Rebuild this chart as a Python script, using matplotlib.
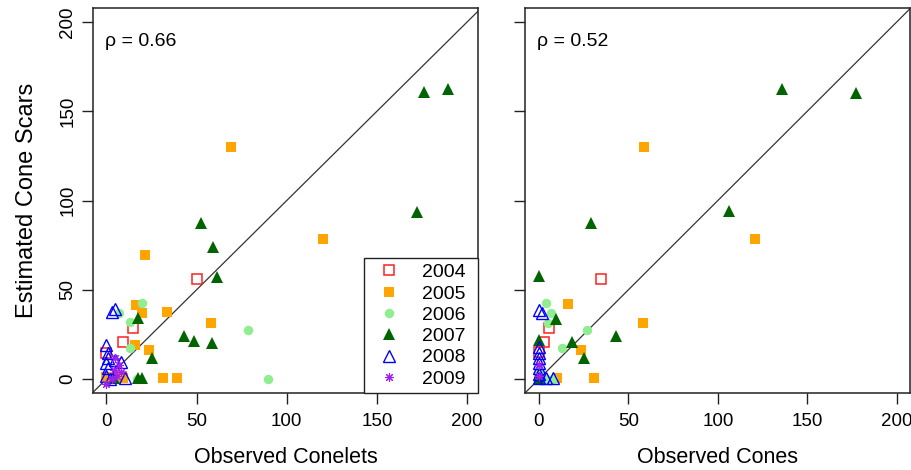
import matplotlib
matplotlib.use("Agg")
import matplotlib.pyplot as plt
from matplotlib.lines import Line2D

plt.rcParams['font.family'] = ['Liberation Sans', 'DejaVu Sans']

years = ["2004", "2005", "2006", "2007", "2008", "2009"]

# Left panel: Observed Conelets (x) vs Estimated Cone Scars (y)
left_x = {
    "2004": [50.4, 15, 9.4, 0, 8],
    "2005": [69, 120, 21.6, 16.6, 20, 33.8, 58, 16, 23.8, 31.6, 39.3, 9.5, 0],
    "2006": [20, 7.2, 13.3, 13.3, 78.7, 89.7, 17],
    "2007": [176, 189.5, 172, 52.6, 59.3, 61.5, 43, 48.8, 58.7, 25.5, 17.7, 17.7, 20, 4],
    "2008": [3.3, 5, 0, 1, 1, 0, 1, 0, 5, 8, 10.5, 2],
    "2009": [5, 7, 4, 6, 3, 8, 0],
}
left_y = {
    "2004": [56, 28.6, 20.7, 14.5, 1],
    "2005": [130, 78.4, 69.5, 41.5, 37, 37.5, 31.4, 19, 16.2, 0.5, 0.5, 0.5, 1],
    "2006": [42.5, 37, 32, 17.5, 27.4, 0, 0],
    "2007": [161, 162.5, 93.6, 87.4, 74, 57, 24, 21.3, 20.2, 11.8, 34, 0.5, 0.5, 0.5],
    "2008": [37.5, 39, 19, 14.5, 11.8, 9, 6, 2, 10.6, 9.5, 0.5, 0],
    "2009": [12, 8, 5, 2, 0, 4, -3],
}

# Right panel: Observed Cones (x) vs Estimated Cone Scars (y)
right_x = {
    "2004": [34.6, 5.6, 2.8, 0],
    "2005": [58.7, 120.7, 16.5, 58, 23.5, 31, 10, 0],
    "2006": [4, 6.7, 5, 27, 12.8, 0, 4, 8],
    "2007": [135.8, 177, 106, 29, 0, 9.5, 43, 0, 18.4, 25.3, 0],
    "2008": [0, 1.7, 0, 0, 0, 0, 0, 0, 0, 4, 8],
    "2009": [0, 0],
}
right_y = {
    "2004": [56, 28.6, 20.7, 15],
    "2005": [130, 78.4, 41.8, 31.4, 16.2, 0.5, 0.5, 0.5],
    "2006": [42.5, 37, 31.4, 27.4, 17.5, 4, 0, 0],
    "2007": [162.5, 160, 94, 87.4, 57.7, 33.6, 24, 22, 20.5, 11.8, 0],
    "2008": [38.7, 37, 18, 14.5, 12, 9, 6, 3, 0.5, 0.5, 0.5],
    "2009": [8, 2],
}

rho_labels = ["\u03c1 = 0.66", "\u03c1 = 0.52"]
xlabels = ["Observed Conelets", "Observed Cones"]
ylabel = "Estimated Cone Scars"
ticks = [0, 50, 100, 150, 200]

styles = {
    "2004": dict(marker='s', ms=7.0, mfc='none', mec='#FF2020', mew=1.1),
    "2005": dict(marker='s', ms=7.0, mfc='#FFA500', mec='#FFA500', mew=0),
    "2006": dict(marker='o', ms=6.8, mfc='#90EE90', mec='#90EE90', mew=0),
    "2007": dict(marker='^', ms=8.2, mfc='#006400', mec='#006400', mew=0),
    "2008": dict(marker='^', ms=8.4, mfc='none', mec='#0000FF', mew=1.0),
    "2009": dict(marker=(8, 2, 0), ms=6.5, mfc='none', mec='#A020F0', mew=0.8),
}

fig = plt.figure(figsize=(9.12, 4.70), dpi=100)
W, H = 912, 470
boxes = [(93, 478), (525, 910)]
xlims = [(-7.4, 206.0), (-7.8, 207.4)]
top, bottom = 8, 393

for i, (xl, xr) in enumerate(boxes):
    ax = fig.add_axes([xl / W, 1 - bottom / H, (xr - xl) / W, (bottom - top) / H])
    ax.set_xlim(*xlims[i])
    ax.set_ylim(-7.8, 207.8)
    ax.axline((0, 0), slope=1, color='#333333', lw=0.9, zorder=1)
    xs = left_x if i == 0 else right_x
    ys = left_y if i == 0 else right_y
    for yr in years:
        ax.plot(xs[yr], ys[yr], linestyle='none', zorder=3, **styles[yr])
    ax.set_xticks(ticks)
    ax.set_yticks(ticks)
    ax.tick_params(axis='both', direction='out', length=8, width=1, color='#222222',
                   labelsize=13.5)
    ax.tick_params(axis='x', pad=6.5)
    ax.tick_params(axis='y', pad=4)
    if i == 0:
        ax.set_yticklabels([str(t) for t in ticks], rotation=90, va='center')
        ax.set_ylabel(ylabel, fontsize=17, labelpad=15)
    else:
        ax.set_yticklabels([])
    ax.set_xlabel(xlabels[i], fontsize=15.5, labelpad=12)
    for s in ax.spines.values():
        s.set_linewidth(1.1)
        s.set_color('#222222')
    ax.text(-1, 189, rho_labels[i], fontsize=14, ha='left', va='center')
    if i == 0:
        handles = [Line2D([], [], linestyle='none', **styles[yr]) for yr in years]
        wfrac = 114 / (xr - xl)
        leg = ax.legend(handles, years, loc='lower left',
                        bbox_to_anchor=(1 - wfrac, 0, wfrac, 0.5), mode='expand',
                        borderaxespad=0, fancybox=False, fontsize=14, frameon=True,
                        handlelength=2.06, handletextpad=0.67, labelspacing=0.19,
                        borderpad=0.27)
        leg.get_frame().set_edgecolor('#222222')
        leg.get_frame().set_linewidth(1.0)
        leg.get_frame().set_alpha(1)

fig.savefig("out.png", dpi=100)
